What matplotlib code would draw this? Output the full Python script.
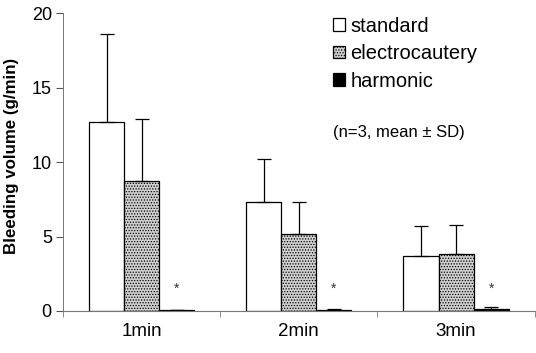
"""
Bleeding volume bar chart (standard / electrocautery / harmonic)
"""
import matplotlib
matplotlib.use('Agg')
import matplotlib.pyplot as plt
import numpy as np

plt.rcParams['font.family'] = ['Liberation Sans', 'DejaVu Sans']
plt.rcParams['hatch.linewidth'] = 0.6

# data
times = ['1min', '2min', '3min']
standard_mean = [12.7, 7.3, 3.7]
standard_sd = [5.9, 2.9, 2.0]
electro_mean = [8.7, 5.2, 3.8]
electro_sd = [4.2, 2.1, 2.0]
harmonic_mean = [0.08, 0.08, 0.12]
harmonic_sd = [0.02, 0.03, 0.18]

fig = plt.figure(figsize=(5.36, 3.53), dpi=100)
ax = fig.add_axes([0.1175, 0.119, 0.88, 0.844])

x = np.arange(len(times))
w = 0.223

err_kw = dict(ecolor='black', elinewidth=0.9, capsize=5, capthick=0.9)

ax.bar(x - w, standard_mean, w, color='white', edgecolor='black', linewidth=0.9,
       yerr=[np.zeros(3), standard_sd], error_kw=err_kw, label='standard')
ax.bar(x, electro_mean, w, color='#d0d0d0', edgecolor='black', linewidth=0.9,
       hatch='......', yerr=[np.zeros(3), electro_sd], error_kw=err_kw,
       label='electrocautery')
ax.bar(x + w, harmonic_mean, w, color='black', edgecolor='black', linewidth=0.9,
       yerr=[np.zeros(3), harmonic_sd], error_kw=err_kw, label='harmonic')

# significance marks
for xi in x:
    ax.text(xi + w, 1.0, '*', ha='center', va='bottom', fontsize=10, color='#333333')

ax.set_xlim(-0.5, 2.5)
ax.set_ylim(0, 20)
ax.set_yticks([0, 5, 10, 15, 20])
ax.set_xticks(x)
ax.set_xticklabels(times, fontsize=13.5)
ax.set_xticks([-0.5, 0.5, 1.5, 2.5], minor=True)
ax.tick_params(axis='x', which='major', length=0, pad=9)
ax.tick_params(axis='x', which='minor', length=4, color='#777777', direction='out')
ax.tick_params(axis='y', labelsize=13, length=5, color='#555555', width=0.8, pad=3)

ax.set_ylabel('Bleeding volume (g/min)', fontsize=12.2, fontweight='bold')
ax.yaxis.set_label_coords(-0.094, 0.52)

for s in ['top', 'right']:
    ax.spines[s].set_visible(False)
ax.spines['left'].set_color('#777777')
ax.spines['left'].set_linewidth(0.7)
ax.spines['left'].set_linestyle((0, (3, 1)))
ax.spines['bottom'].set_color('#777777')
ax.spines['bottom'].set_linewidth(0.8)

leg = ax.legend(loc='upper left', bbox_to_anchor=(0.556, 1.015), frameon=False,
                fontsize=14.5, handlelength=0.6, handleheight=0.6,
                handletextpad=0.25, labelspacing=0.42, borderaxespad=0.0)

ax.text(0.572, 0.60, '(n=3, mean \u00b1 SD)', transform=ax.transAxes,
        fontsize=12, ha='left', va='center')

plt.savefig('out.png', dpi=100)
